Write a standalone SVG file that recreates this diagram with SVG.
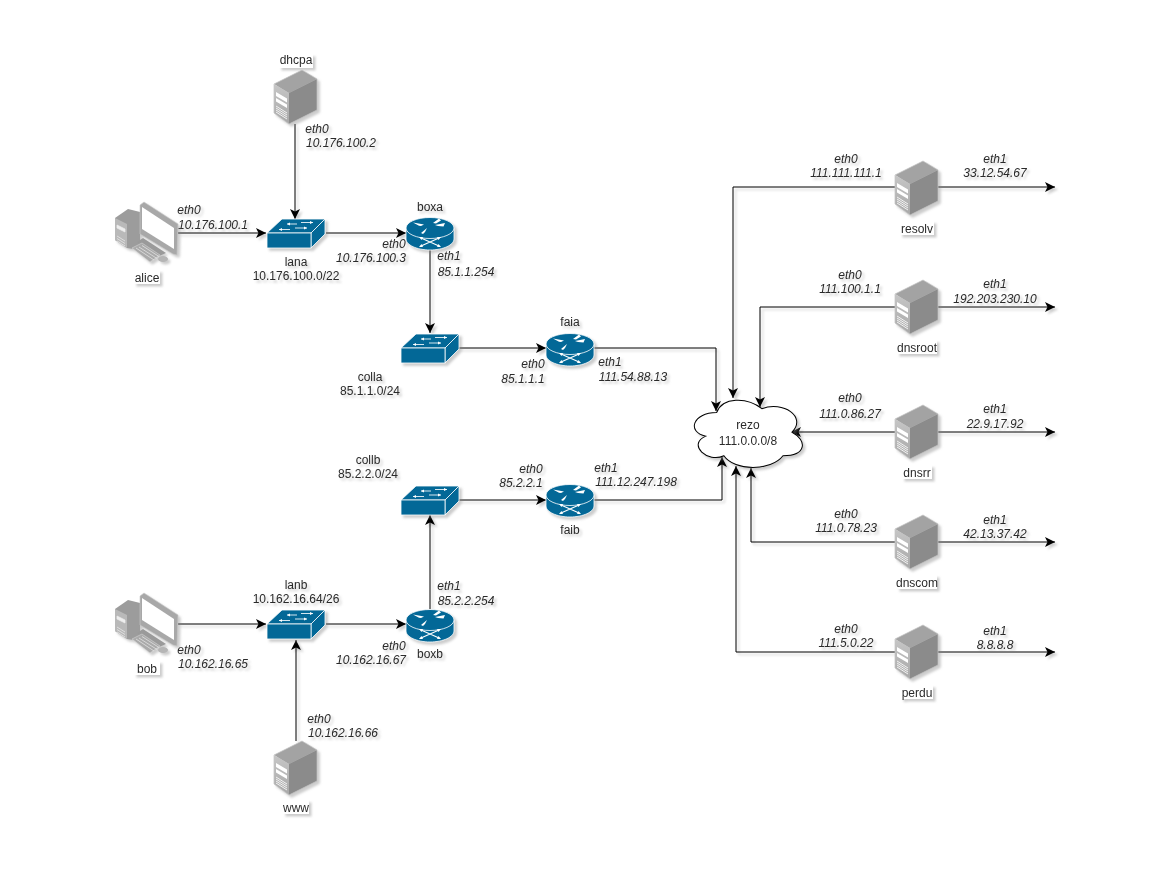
<svg xmlns="http://www.w3.org/2000/svg" xmlns:xlink="http://www.w3.org/1999/xlink" width="1157" height="892" viewBox="0 0 1157 892">
<style>
text{font-family:"Liberation Sans",Arial,sans-serif;font-size:12px;fill:#2a2a2a;text-anchor:middle}
.i{font-style:italic}
.e{fill:none;stroke:#000;stroke-width:1;marker-end:url(#a)}
.s{filter:url(#sh)}
.bg{fill:#fff}
</style>
<defs>
<filter id="sh" x="-10%" y="-10%" width="125%" height="125%" filterUnits="objectBoundingBox" color-interpolation-filters="sRGB">
<feDropShadow dx="2.5" dy="2.5" stdDeviation="1" flood-color="#808080" flood-opacity="0.4"/>
</filter>
<linearGradient id="lf" x1="0" y1="0" x2="0" y2="1"><stop offset="0" stop-color="#c6c6c6"/><stop offset="1" stop-color="#a8a8a8"/></linearGradient>
<marker id="a" markerUnits="userSpaceOnUse" viewBox="0 0 10 10" refX="10" refY="5" markerWidth="10" markerHeight="10" orient="auto"><path d="M0 0L10 5L0 10L2.5 5Z" fill="#000"/></marker>
<g id="server">
<path d="M0 14L28 0L43 9L15 23Z" fill="#a3a3a3"/>
<path d="M15 23L43 9V40L15 54Z" fill="#8b8b8b"/>
<path d="M0 14L15 23V54L0 43Z" fill="url(#lf)"/>
<path d="M0 14L28 0L43 9V40L15 54L0 43Z" fill="none" stroke="#c4c4c4" stroke-width="0.7"/>
<path d="M2 22L13 28.500V32.500L2 26ZM2 28L13 34.500V38L2 31.500Z" fill="#fff"/>
<path d="M2 36L13 43M2 38L13 45M2 40L13 47M2 42L13 49" stroke="#f2f2f2" stroke-width="1" fill="none"/>
</g>
<g id="switch">
<path d="M1 14L16 0H59L45 14Z" fill="#036897" stroke="#fff" stroke-width="0.8"/>
<path d="M45 14L59 0V15L45 29Z" fill="#036897" stroke="#fff" stroke-width="0.8"/>
<rect x="1" y="14" width="44" height="15" fill="#036897" stroke="#fff" stroke-width="0.8"/>
<path d="M21 5H31M35 3.500H47M13 10.500H24M29 9H41" stroke="#d5e6ee" stroke-width="1" fill="none"/>
<path d="M47 3.500l-3-1.500v3ZM21 5l3-1.500v3ZM13 10.500l3-1.500v3ZM41 9l-3-1.500v3Z" fill="#fff"/>
</g>
<g id="router">
<path d="M0 11V22C0 28 11 33 24 33S48 28 48 22V11Z" fill="#036897" stroke="#fff" stroke-width="0.8"/>
<ellipse cx="24" cy="11" rx="24" ry="10.500" fill="#036897" stroke="#fff" stroke-width="0.8"/>
<path d="M7 5.500L18 7.500L15 9L13 8.800ZM29 8L39 6L37.500 9.500L32 9ZM27 6L33 1.500L35 3.500L30 6.500ZM15 16L21 11L19 15L17 17Z" fill="#fff"/>
<path d="M15 21L33 29M15 29L33 21" stroke="#fff" stroke-width="1.100" fill="none"/>
<path d="M13 20l4 0l-1.500 3ZM35 20l-4 0l1.500 3ZM13 30l4 0l-1.500-3ZM35 30l-4 0l1.500-3Z" fill="#fff"/>
</g>
<g id="pc">
<path d="M2 16L15 7L27 10V48L14 46L2 38Z" fill="#9c9c9c"/>
<path d="M2 16L14 22V46L2 38Z" fill="#b9b9b9"/>
<path d="M4 23L12 27V30L4 26ZM4 34L12 39M4 36.500L12 41.500M4 39L12 44" stroke="#eee" fill="#eee" stroke-width="0.7"/>
<path d="M27 3L31 0L65 22L64 53L60 52L27 32Z" fill="#a8a8a8" stroke="#c9c9c9" stroke-width="0.6"/>
<path d="M29 5L61 26V47L29 27Z" fill="#fff"/>
<path d="M30 36L53 51L46 54L24 40Z" fill="#9a9a9a"/>
<path d="M19 46L29 41L47 53L37 60Z" fill="#aaa" stroke="#ddd" stroke-width="0.5"/>
<path d="M23 46L41 58M26 45L44 56.500M29 43.500L46 54.500" stroke="#e2e2e2" stroke-width="0.8" fill="none"/>
<ellipse cx="50" cy="57" rx="5" ry="3" fill="#b5b5b5"/>
</g>
</defs>
<g id="connectors" class="s">
<path class="e" d="M295 124V219"/>
<path class="e" d="M178 233H266"/>
<path class="e" d="M326 233H406"/>
<path class="e" d="M430 249V333"/>
<path class="e" d="M459 348H546"/>
<path class="e" d="M594 348H716V411"/>
<path class="e" d="M594 500H722V457"/>
<path class="e" d="M459 500H546"/>
<path class="e" d="M430 609V515"/>
<path class="e" d="M178 624H266"/>
<path class="e" d="M326 624H406"/>
<path class="e" d="M296 741V640"/>
<path class="e" d="M895 187H733V398"/>
<path class="e" d="M895 307H760V407"/>
<path class="e" d="M895 432H791"/>
<path class="e" d="M895 542H751V468"/>
<path class="e" d="M895 652H736V466"/>
<path class="e" d="M938 187H1055"/>
<path class="e" d="M938 307H1055"/>
<path class="e" d="M938 432H1055"/>
<path class="e" d="M938 542H1055"/>
<path class="e" d="M938 652H1055"/>
</g>
<g id="edge-labels" class="s">
<text class="i" x="189" y="214">eth0</text><text class="i" x="213" y="229">10.176.100.1</text>
<text class="i" x="317" y="133">eth0</text><text class="i" x="341" y="147">10.176.100.2</text>
<text class="i" x="394" y="248">eth0</text><text class="i" x="371" y="262">10.176.100.3</text>
<text class="i" x="449" y="260">eth1</text><text class="i" x="466" y="276">85.1.1.254</text>
<text class="i" x="533" y="368">eth0</text><text class="i" x="523" y="383">85.1.1.1</text>
<text class="i" x="610" y="366">eth1</text><text class="i" x="633" y="381">111.54.88.13</text>
<text class="i" x="531" y="473">eth0</text><text class="i" x="521" y="487">85.2.2.1</text>
<text class="i" x="606" y="472">eth1</text><text class="i" x="636" y="486">111.12.247.198</text>
<text class="i" x="449" y="590">eth1</text><text class="i" x="466" y="605">85.2.2.254</text>
<text class="i" x="394" y="650">eth0</text><text class="i" x="371" y="664">10.162.16.67</text>
<text class="i" x="189" y="654">eth0</text><text class="i" x="213" y="668">10.162.16.65</text>
<text class="i" x="319" y="723">eth0</text><text class="i" x="343" y="737">10.162.16.66</text>
<text class="i" x="846" y="163">eth0</text><text class="i" x="846" y="177">111.111.111.1</text>
<text class="i" x="995" y="163">eth1</text><text class="i" x="995" y="177">33.12.54.67</text>
<text class="i" x="850" y="279">eth0</text><text class="i" x="850" y="293">111.100.1.1</text>
<text class="i" x="995" y="288">eth1</text><text class="i" x="995" y="303">192.203.230.10</text>
<text class="i" x="850" y="402">eth0</text><text class="i" x="850" y="418">111.0.86.27</text>
<text class="i" x="995" y="413">eth1</text><text class="i" x="995" y="428">22.9.17.92</text>
<text class="i" x="846" y="518">eth0</text><text class="i" x="846" y="532">111.0.78.23</text>
<text class="i" x="995" y="524">eth1</text><text class="i" x="995" y="538">42.13.37.42</text>
<text class="i" x="846" y="633">eth0</text><text class="i" x="846" y="647">111.5.0.22</text>
<text class="i" x="995" y="635">eth1</text><text class="i" x="995" y="649">8.8.8.8</text>
</g>
<g id="dhcpa" class="s"><use href="#server" x="274" y="70"/><rect class="bg" x="279" y="54" width="34" height="14"/><text x="296" y="64">dhcpa</text></g>
<g id="alice" class="s"><use href="#pc" x="113" y="202"/><rect class="bg" x="134" y="270" width="26" height="14"/><text x="147" y="282">alice</text></g>
<g id="lana" class="s"><use href="#switch" x="266" y="219"/><text x="296" y="266">lana</text><text x="296" y="280">10.176.100.0/22</text></g>
<g id="boxa" class="s"><use href="#router" x="406" y="217"/><text x="430" y="211">boxa</text></g>
<g id="colla" class="s"><use href="#switch" x="400" y="334"/><text x="370" y="381">colla</text><text x="370" y="395">85.1.1.0/24</text></g>
<g id="faia" class="s"><use href="#router" x="546" y="333"/><text x="570" y="326">faia</text></g>
<g id="collb" class="s"><use href="#switch" x="400" y="486"/><text x="368" y="464">collb</text><text x="368" y="478">85.2.2.0/24</text></g>
<g id="faib" class="s"><use href="#router" x="546" y="484"/><text x="570" y="534">faib</text></g>
<g id="lanb" class="s"><use href="#switch" x="266" y="610"/><text x="296" y="589">lanb</text><text x="296" y="603">10.162.16.64/26</text></g>
<g id="boxb" class="s"><use href="#router" x="406" y="609"/><text x="430" y="658">boxb</text></g>
<g id="bob" class="s"><use href="#pc" x="113" y="593"/><rect class="bg" x="134" y="661" width="26" height="14"/><text x="147" y="673">bob</text></g>
<g id="www" class="s"><use href="#server" x="274" y="741"/><rect class="bg" x="283" y="800" width="26" height="14"/><text x="296" y="812">www</text></g>
<g id="rezo" class="s"><path transform="translate(686.500 393) scale(1.005 .98)" d="M30 20C6 20 0 40 19.200 44C0 52.800 21.600 72 37.200 64C48 80 84 80 96 64C120 64 120 48 105 40C120 24 96 8 75 16C60 4 36 4 30 20Z" fill="#fff" stroke="#000" stroke-width="1"/><text x="748" y="429">rezo</text><text x="748" y="445">111.0.0.0/8</text></g>
<g id="resolv" class="s"><use href="#server" x="895" y="161"/><rect class="bg" x="900" y="221" width="34" height="14"/><text x="917" y="233">resolv</text></g>
<g id="dnsroot" class="s"><use href="#server" x="895" y="280"/><rect class="bg" x="897" y="340" width="40" height="14"/><text x="917" y="352">dnsroot</text></g>
<g id="dnsrr" class="s"><use href="#server" x="895" y="405"/><rect class="bg" x="902" y="465" width="30" height="14"/><text x="917" y="477">dnsrr</text></g>
<g id="dnscom" class="s"><use href="#server" x="895" y="515"/><rect class="bg" x="897" y="575" width="40" height="14"/><text x="917" y="587">dnscom</text></g>
<g id="perdu" class="s"><use href="#server" x="895" y="625"/><rect class="bg" x="901" y="685" width="32" height="14"/><text x="917" y="697">perdu</text></g>
</svg>
